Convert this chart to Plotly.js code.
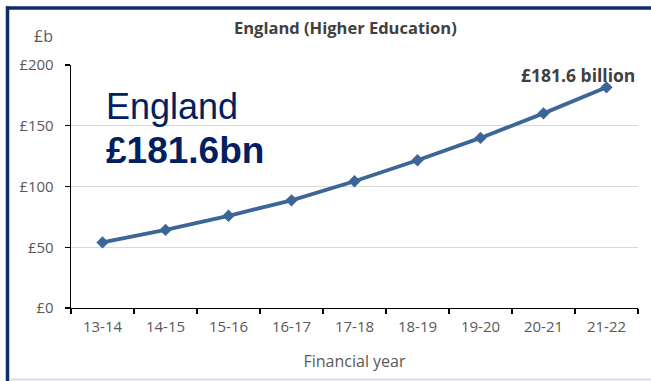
<!DOCTYPE html>
<html>
<head>
<meta charset="utf-8">
<script src="https://cdn.plot.ly/plotly-3.0.1.min.js"></script>
<style>
html,body{margin:0;padding:0;background:#fff;}
#chart{width:651px;height:381px;}
</style>
</head>
<body>
<div id="chart"></div>
<script>
const years = ["13-14","14-15","15-16","16-17","17-18","18-19","19-20","20-21","21-22"];
const spending = [54.0, 64.3, 75.9, 88.6, 104.3, 121.6, 140.0, 160.2, 181.6];
const yTicks = [0, 50, 100, 150, 200];
const chartTitle = "England (Higher Education)";
const unitLabel = "£b";
const xTitle = "Financial year";
const bigName = "England";
const bigTotal = "£181.6bn";
const endLabel = "£181.6 billion";

const W = 651, H = 381;
const M = {l: 71, r: 13, t: 65, b: 73};
const PW = W - M.l - M.r, PH = H - M.t - M.b;
const px = x => (x - M.l) / PW;
const py = y => (H - M.b - y) / PH;

const grey = "#595959";
const font = "'Open Sans', sans-serif";

const trace = {
  x: years, y: spending, type: "scatter", mode: "lines+markers",
  line: {color: "#3d6698", width: 3.8},
  marker: {symbol: "diamond", size: 9.5, color: "#3d6698"},
  hoverinfo: "skip"
};

const layout = {
  width: W, height: H,
  margin: M,
  paper_bgcolor: "#fff", plot_bgcolor: "#fff",
  showlegend: false,
  font: {family: font, color: grey, size: 14},
  xaxis: {
    type: "category", range: [-0.5, years.length - 0.5],
    tickson: "boundaries", ticks: "outside", ticklen: 5, tickcolor: "#000", tickwidth: 1.3,
    showline: true, linecolor: "#000", linewidth: 1.3,
    showgrid: false, zeroline: false, ticklabelstandoff: 5,
    tickfont: {family: font, size: 15, color: grey},
    title: {text: xTitle, font: {family: font, size: 16, color: grey}, standoff: 20}
  },
  yaxis: {
    range: [0, 200], tickvals: yTicks, ticktext: yTicks.map(v => "£" + v),
    ticks: "outside", ticklen: 5, tickcolor: "#000", tickwidth: 1.3,
    showline: true, linecolor: "#000", linewidth: 1.3,
    showgrid: true, gridcolor: "#d9d9d9", gridwidth: 1.3, zeroline: false,
    ticklabelstandoff: 8,
    tickfont: {family: font, size: 15, color: grey}
  },
  annotations: [
    {xref: "paper", yref: "paper", x: px(345), y: py(28), text: "<b>" + chartTitle + "</b>",
     showarrow: false, xanchor: "center", yanchor: "middle",
     font: {family: font, size: 16.5, color: "#404040"}},
    {xref: "paper", yref: "paper", x: px(43), y: py(36), text: unitLabel,
     showarrow: false, xanchor: "center", yanchor: "middle",
     font: {family: font, size: 16, color: grey}},
    {xref: "paper", yref: "paper", x: px(104), y: py(106), text: bigName,
     showarrow: false, xanchor: "left", yanchor: "middle",
     font: {family: "'Liberation Sans', Arial, sans-serif", size: 36, color: "#002060"}},
    {xref: "paper", yref: "paper", x: px(104), y: py(150), text: "<b>" + bigTotal + "</b>",
     showarrow: false, xanchor: "left", yanchor: "middle",
     font: {family: "'Liberation Sans', Arial, sans-serif", size: 37, color: "#002060"}},
    {xref: "x", yref: "y", x: years[years.length - 1], y: spending[spending.length - 1],
     text: "<b>" + endLabel + "</b>", showarrow: false, xanchor: "right", yanchor: "bottom",
     xshift: 30, yshift: -2,
     font: {family: font, size: 17.5, color: "#404040"}}
  ],
  shapes: [
    {type: "line", xref: "paper", yref: "paper", x0: px(6), x1: px(651), y0: py(8), y1: py(8),
     line: {color: "#0f2d6b", width: 3.5}},
    {type: "line", xref: "paper", yref: "paper", x0: px(7.5), x1: px(7.5), y0: py(6.3), y1: py(381),
     line: {color: "#0f2d6b", width: 3.5}},
    {type: "line", xref: "paper", yref: "paper", x0: px(10), x1: px(651), y0: py(379.5), y1: py(379.5),
     line: {color: "#d8dce6", width: 2}}
  ]
};

Plotly.newPlot("chart", [trace], layout, {displayModeBar: false, staticPlot: true});
</script>
</body>
</html>
